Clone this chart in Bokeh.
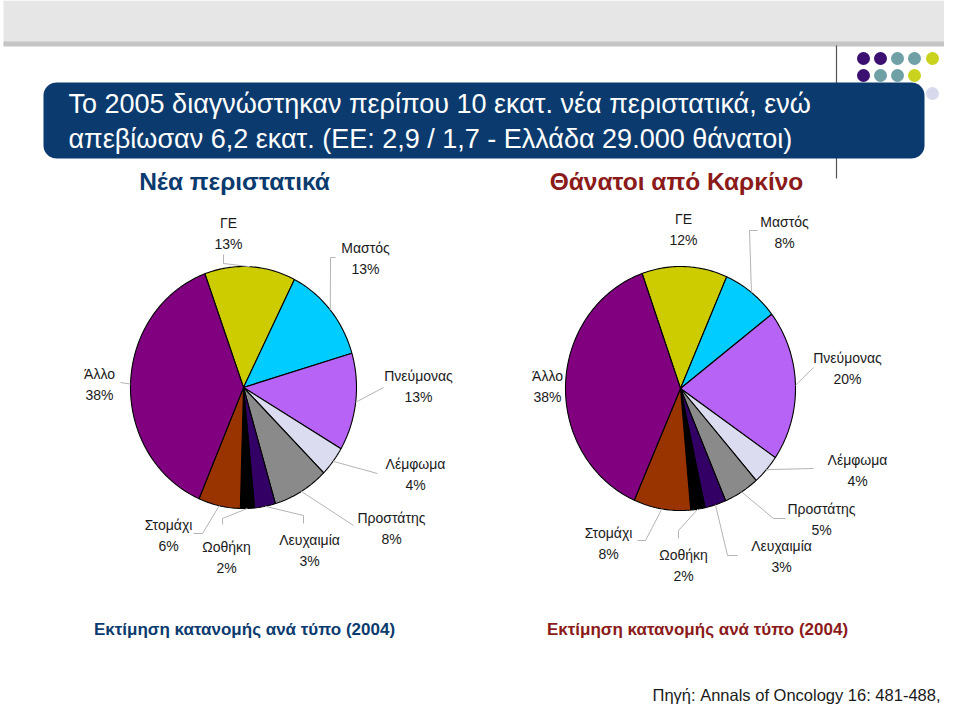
import numpy as np
from bokeh.plotting import figure
from bokeh.models import Range1d, ColumnDataSource
from bokeh.core.properties import value
from bokeh.embed import file_html
from bokeh.resources import INLINE

# ---------------- data ----------------
categories = ["ΓΕ", "Μαστός", "Πνεύμονας", "Λέμφωμα", "Προστάτης",
              "Λευχαιμία", "Ωοθήκη", "Στομάχι", "Άλλο"]
new_cases_pct = [13, 13, 13, 4, 8, 3, 2, 6, 38]
deaths_pct = [12, 8, 20, 4, 5, 3, 2, 8, 38]
slice_colors = ["#CCCC00", "#00CCFF", "#B663F6", "#DCDCF0", "#8A8A8A",
                "#330066", "#000000", "#993300", "#800080"]

title_lines = ["Το 2005 διαγνώστηκαν περίπου 10 εκατ. νέα περιστατικά, ενώ",
               "απεβίωσαν 6,2 εκατ. (ΕΕ: 2,9 / 1,7 - Ελλάδα 29.000 θάνατοι)"]
left_title = "Νέα περιστατικά"
right_title = "Θάνατοι από Καρκίνο"
caption = "Εκτίμηση κατανομής ανά τύπο (2004)"
source_lines = ["Πηγή: Annals of Oncology 16: 481-488,", "2005"]

# ---------------- layout (page pixel coords, y down) ----------------
W, H = 944, 704
NAVY = "#0B3B6E"
RED = "#8B1A1A"

pie_layouts = [
    dict(values=new_cases_pct, cx=243, cy=387, rx=113, ry=121, start=-20.0,
         label_pos=[(228, 222), (365, 247), (418, 375), (415, 463), (391, 517),
                    (309, 539), (226, 546), (168, 524), (99, 373)],
         leaders=[[(223, 263), (223, 254)], [(330, 257), (335, 257)], [(383, 387)],
                  [(377, 473)], [(353, 525)], [(303, 515), (303, 523)],
                  [(222, 518), (222, 524)], [(202, 533), (193, 533)], [(120, 382)]]),
    dict(values=deaths_pct, cx=680, cy=388, rx=115, ry=122, start=-19.5,
         label_pos=[(683, 218), (784, 221), (847, 357), (857, 459), (821, 508),
                    (781, 545), (683, 554), (608, 532), (547, 375)],
         leaders=[None, [(749, 230), (757, 230)], [(813, 367)], [(813, 468)],
                  [(773, 518), (785, 518)], [(727, 555), (737, 555)],
                  [(678, 530), (678, 538)], [(645, 540), (637, 540)], None]),
]


def Y(y):
    return 720 - y


p = figure(width=W, height=H, x_range=Range1d(0, W), y_range=Range1d(720 - H, 720),
           output_backend="svg", toolbar_location=None, min_border=0,
           background_fill_color="white", border_fill_color="white",
           outline_line_color=None)
p.axis.visible = False
p.grid.visible = False

# banner at the top
p.quad(left=3, right=955, top=Y(0), bottom=Y(42), fill_color="#E6E6E6", line_color=None)
p.quad(left=3, right=955, top=Y(41), bottom=Y(46), fill_color="#C4C4C4", line_color=None)

# vertical thin line
p.line([836, 836], [Y(45), Y(178)], line_color="#555555", line_width=1.2)

# decorative dots
dot_x = [863, 880, 897, 914, 932, 863, 880, 897, 914, 932]
dot_y = [58, 58, 58, 58, 58, 75, 75, 75, 75, 93]
dot_c = ["#3B1070", "#3B1070", "#6EA0A6", "#6EA0A6", "#C9D31E",
         "#3B1070", "#6EA0A6", "#6EA0A6", "#C9D31E", "#D9D9EE"]
p.scatter(dot_x, [Y(y) for y in dot_y], size=13, fill_color=dot_c, line_color=None)

# rounded title box
def rounded_rect(x0, x1, y0, y1, r, n=12):
    xs, ys = [], []
    corners = [(x1 - r, y0 + r, -90, 0), (x1 - r, y1 - r, 0, 90),
               (x0 + r, y1 - r, 90, 180), (x0 + r, y0 + r, 180, 270)]
    for cx, cy, a0, a1 in corners:
        a = np.radians(np.linspace(a0, a1, n))
        xs.extend(cx + r * np.cos(a))
        ys.extend(cy + r * np.sin(a))
    return xs, ys

bx, by = rounded_rect(43, 924, 82, 158, 13)
p.patch(bx, [Y(v) for v in by], fill_color=NAVY, line_color=None)
p.text(x=[68, 68], y=[Y(103), Y(138)], text=title_lines, text_color="white",
       text_font=value("Liberation Sans"), text_font_size="27px",
       text_align="left", text_baseline="middle")

# subtitles
p.text(x=[234], y=[Y(181)], text=[left_title], text_color=NAVY,
       text_font=value("Liberation Sans"), text_font_size="24.5px", text_font_style="bold",
       text_align="center", text_baseline="middle")
p.text(x=[676], y=[Y(181)], text=[right_title], text_color=RED,
       text_font=value("Liberation Sans"), text_font_size="24.5px", text_font_style="bold",
       text_align="center", text_baseline="middle")

# pies
for lay in pie_layouts:
    vals = np.array(lay["values"], dtype=float)
    cx, cy, rx, ry = lay["cx"], lay["cy"], lay["rx"], lay["ry"]
    fr = vals / vals.sum() * 360.0
    starts = lay["start"] + np.concatenate([[0], np.cumsum(fr)[:-1]])
    ends = starts + fr
    xs_list, ys_list = [], []
    for a0, a1 in zip(starts, ends):
        t = np.radians(np.linspace(a0, a1, max(int(abs(a1 - a0)) + 2, 4)))
        px = np.concatenate([[cx], cx + rx * np.sin(t)])
        py = np.concatenate([[cy], cy - ry * np.cos(t)])
        xs_list.append(list(px))
        ys_list.append([Y(v) for v in py])
    src = ColumnDataSource(dict(xs=xs_list, ys=ys_list, color=slice_colors, name=categories))
    p.patches("xs", "ys", source=src, fill_color="color", line_color="black", line_width=1.1)

    # leader lines
    mids = np.radians((starts + ends) / 2)
    for k, ld in enumerate(lay["leaders"]):
        if ld is None:
            continue
        ex = cx + rx * np.sin(mids[k])
        ey = cy - ry * np.cos(mids[k])
        pts = [(ex, ey)] + ld
        p.line([q[0] for q in pts], [Y(q[1]) for q in pts], line_color="#B4B4B4", line_width=1)

    # labels
    lx = [q[0] for q in lay["label_pos"]]
    ly = [Y(q[1]) for q in lay["label_pos"]]
    p.text(x=lx, y=ly, text=categories, text_color="#1A1A1A",
           text_font=value("Liberation Sans"), text_font_size="14px",
           text_align="center", text_baseline="middle")
    p.text(x=lx, y=[v - 21 for v in ly], text=[f"{int(v)}%" for v in lay["values"]],
           text_color="#1A1A1A", text_font=value("Liberation Sans"), text_font_size="14px",
           text_align="center", text_baseline="middle")

# captions
p.text(x=[244], y=[Y(629)], text=[caption], text_color=NAVY,
       text_font=value("Liberation Sans"), text_font_size="17px", text_font_style="bold",
       text_align="center", text_baseline="middle")
p.text(x=[697], y=[Y(629)], text=[caption], text_color=RED,
       text_font=value("Liberation Sans"), text_font_size="17px", text_font_style="bold",
       text_align="center", text_baseline="middle")

# source
p.text(x=[940], y=[Y(694)], text=[source_lines[0]], text_color="#1A1A1A",
       text_font=value("Liberation Sans"), text_font_size="16.5px",
       text_align="right", text_baseline="middle")

open("out.html", "w").write(file_html(p, INLINE))
